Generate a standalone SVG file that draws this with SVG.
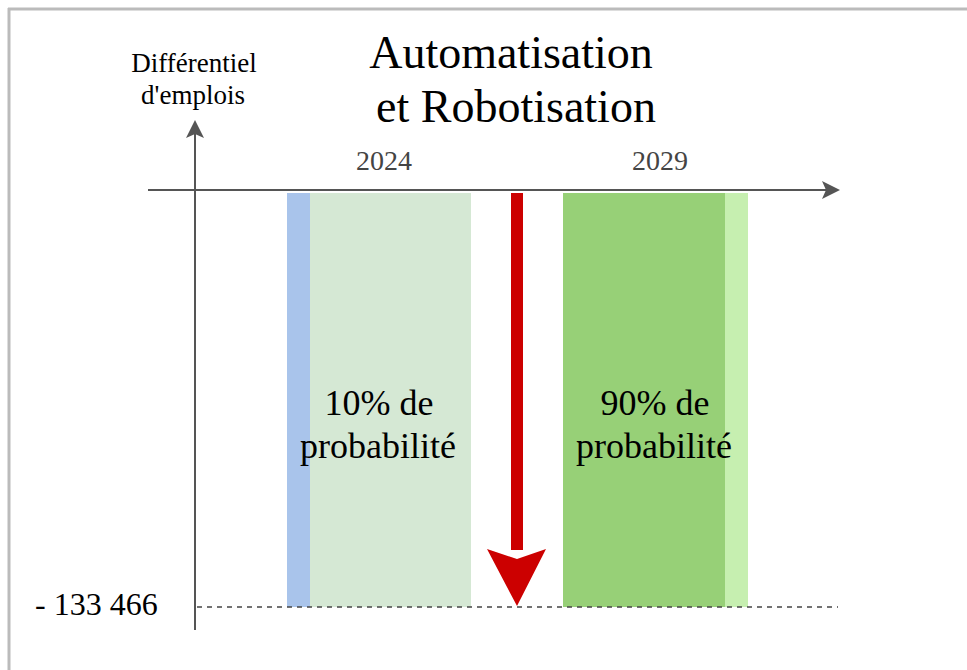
<svg xmlns="http://www.w3.org/2000/svg" width="967" height="670" viewBox="0 0 967 670">
<style>
text{font-family:"Liberation Serif","Times New Roman","DejaVu Serif",serif;fill:#000}
.axis{stroke:#555;stroke-width:2;fill:none}
.year{font-size:28px;fill:#444}
.title{font-size:46px}
.prob{font-size:36px}
.ylab{font-size:27px}
</style>
<defs>
<marker id="ah2" markerWidth="18" markerHeight="18" refX="16" refY="9" orient="auto" markerUnits="userSpaceOnUse" viewBox="0 0 18 18">
<path d="M0,0 L18,9 L0,18 L4,9 Z" fill="#555"/>
</marker>
</defs>
<rect width="967" height="670" fill="#fff"/>
<g id="frame">
<line x1="8" y1="9" x2="967" y2="9" stroke="#bbb" stroke-width="3"/>
<line x1="9" y1="8" x2="9" y2="670" stroke="#bbb" stroke-width="3"/>
</g>
<g id="bar-2024">
<rect x="287" y="193" width="23" height="414" fill="#a9c4eb"/>
<rect x="310" y="193" width="161" height="414" fill="#d5e8d4"/>
<text class="prob" text-anchor="middle" x="379" y="415">10% de</text>
<text class="prob" text-anchor="middle" x="378" y="458">probabilité</text>
</g>
<g id="bar-2029">
<rect x="563" y="193" width="162" height="414" fill="#97d077"/>
<rect x="725" y="193" width="23" height="414" fill="#c6efb0"/>
<text class="prob" text-anchor="middle" x="655" y="415">90% de</text>
<text class="prob" text-anchor="middle" x="654" y="458">probabilité</text>
</g>
<g id="connectors">
<line class="axis" x1="148" y1="190" x2="838" y2="190" marker-end="url(#ah2)"/>
<line class="axis" x1="195" y1="630" x2="195" y2="122" marker-end="url(#ah2)"/>
<line x1="197" y1="607" x2="838" y2="607" stroke="#444" stroke-width="1.5" stroke-dasharray="5,5"/>
</g>
<g id="red-arrow">
<rect x="511" y="193" width="12" height="357" fill="#cc0000"/>
<path d="M487,549 L517,559 L546,549 L517,606 Z" fill="#cc0000"/>
</g>
<g id="labels">
<text class="title" text-anchor="middle" x="511" y="68">Automatisation</text>
<text class="title" text-anchor="middle" x="516" y="122">et Robotisation</text>
<text class="ylab" text-anchor="middle" x="194" y="72">Différentiel</text>
<text class="ylab" text-anchor="middle" x="193" y="104">d'emplois</text>
<text class="year" text-anchor="middle" x="384" y="170">2024</text>
<text class="year" text-anchor="middle" x="660" y="170">2029</text>
<text font-size="32" x="35" y="615">- 133 466</text>
</g>
</svg>
